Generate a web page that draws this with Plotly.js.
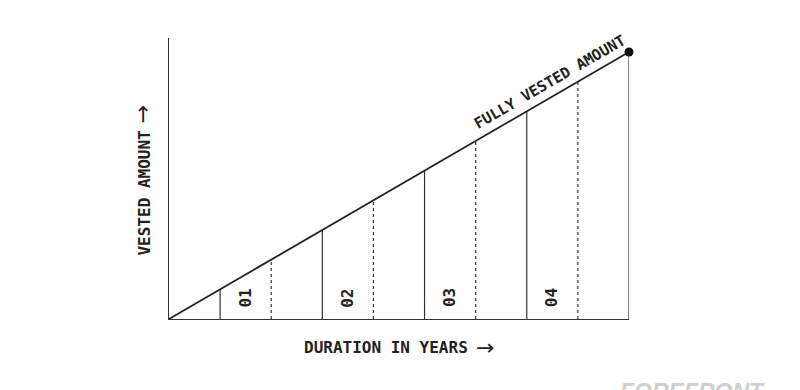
<!DOCTYPE html>
<html><head><meta charset="utf-8">
<script src="https://cdn.plot.ly/plotly-3.0.1.min.js"></script>
<style>html,body{margin:0;padding:0;background:#fff;}#c{width:800px;height:390px;}</style>
</head><body><div id="c"></div>
<script>
// Duration measured in half-year steps (0..9), vested amount in percent
const durationMax = 9;
const vestedMax = 100;
const solidMarks = [1, 3, 5, 7, 9];
const dashedMarks = [2, 4, 6, 8];
const yearLabels = ['01', '02', '03', '04'];
const yearLabelPos = [1.5, 3.5, 5.5, 7.5];
const lineLabel = 'FULLY VESTED AMOUNT';
const xTitle = 'DURATION IN YEARS';
const yTitle = 'VESTED AMOUNT';
const arrow = '→';
const watermark = 'FOREFRONT';

const vested = x => x / durationMax * vestedMax;
function segs(arr) {
  const xs = [], ys = [];
  arr.forEach(v => { xs.push(v, v, null); ys.push(0, vested(v), null); });
  return {xs, ys};
}
const s = segs(solidMarks), d = segs(dashedMarks);
const ink = '#222';
const mono = 'DejaVu Sans Mono';
const arrowFont = {family: 'DejaVu Sans', size: 22, color: ink, weight: 'normal'};

const traces = [
  {x: s.xs, y: s.ys, mode: 'lines', line: {color: '#333', width: 1.2}, hoverinfo: 'skip'},
  {x: d.xs, y: d.ys, mode: 'lines', line: {color: '#333', width: 1.2, dash: 'dot'}, hoverinfo: 'skip'},
  {x: [0, durationMax], y: [0, vestedMax], mode: 'lines', line: {color: ink, width: 1.8}, hoverinfo: 'skip'},
  {x: [durationMax], y: [vestedMax], mode: 'markers', marker: {color: '#111', size: 9}, cliponaxis: false, hoverinfo: 'skip'}
];

const annotations = yearLabels.map((t, i) => ({
  x: yearLabelPos[i], y: 7.9, xref: 'x', yref: 'y', text: t, showarrow: false,
  textangle: -90, font: {family: mono, size: 16, color: ink, weight: 'bold'}
}));
annotations.push({
  x: 7.45, y: 88.8, xref: 'x', yref: 'y', text: lineLabel, showarrow: false,
  textangle: -30, font: {family: mono, size: 15, color: ink, weight: 'bold'}
});
annotations.push({
  x: 0.4707, y: -0.1032, xref: 'paper', yref: 'paper', text: xTitle, showarrow: false,
  xanchor: 'center', yanchor: 'middle', font: {family: mono, size: 16, color: ink, weight: 'bold'}
});
annotations.push({
  x: 0.688, y: -0.1032, xref: 'paper', yref: 'paper', text: arrow, showarrow: false,
  xanchor: 'center', yanchor: 'middle', font: arrowFont
});
annotations.push({
  x: -0.0522, y: 0.450, xref: 'paper', yref: 'paper', text: yTitle, showarrow: false,
  textangle: -90, xanchor: 'center', yanchor: 'middle', font: {family: mono, size: 16, color: ink, weight: 'bold'}
});
annotations.push({
  x: -0.057, y: 0.728, xref: 'paper', yref: 'paper', text: arrow, showarrow: false,
  textangle: -90, xanchor: 'center', yanchor: 'middle', font: arrowFont
});
annotations.push({
  x: 1.137, y: -0.205, xref: 'paper', yref: 'paper', text: watermark, showarrow: false,
  xanchor: 'center', yanchor: 'top', font: {family: 'Liberation Sans', size: 23, color: '#cfcfcf', weight: 'bold', style: 'italic'}
});

const layout = {
  width: 800, height: 390,
  margin: {l: 169, r: 171, t: 38, b: 71},
  paper_bgcolor: '#fff', plot_bgcolor: '#fff',
  showlegend: false,
  xaxis: {range: [0, durationMax], showgrid: false, zeroline: false, showticklabels: false, ticks: '',
          showline: true, linecolor: '#333', linewidth: 1.2, fixedrange: true},
  yaxis: {range: [0, vestedMax * 281 / 267], showgrid: false, zeroline: false, showticklabels: false, ticks: '',
          showline: true, linecolor: '#333', linewidth: 1.2, fixedrange: true},
  annotations: annotations
};
Plotly.newPlot('c', traces, layout, {displayModeBar: false, staticPlot: true});
</script></body></html>
